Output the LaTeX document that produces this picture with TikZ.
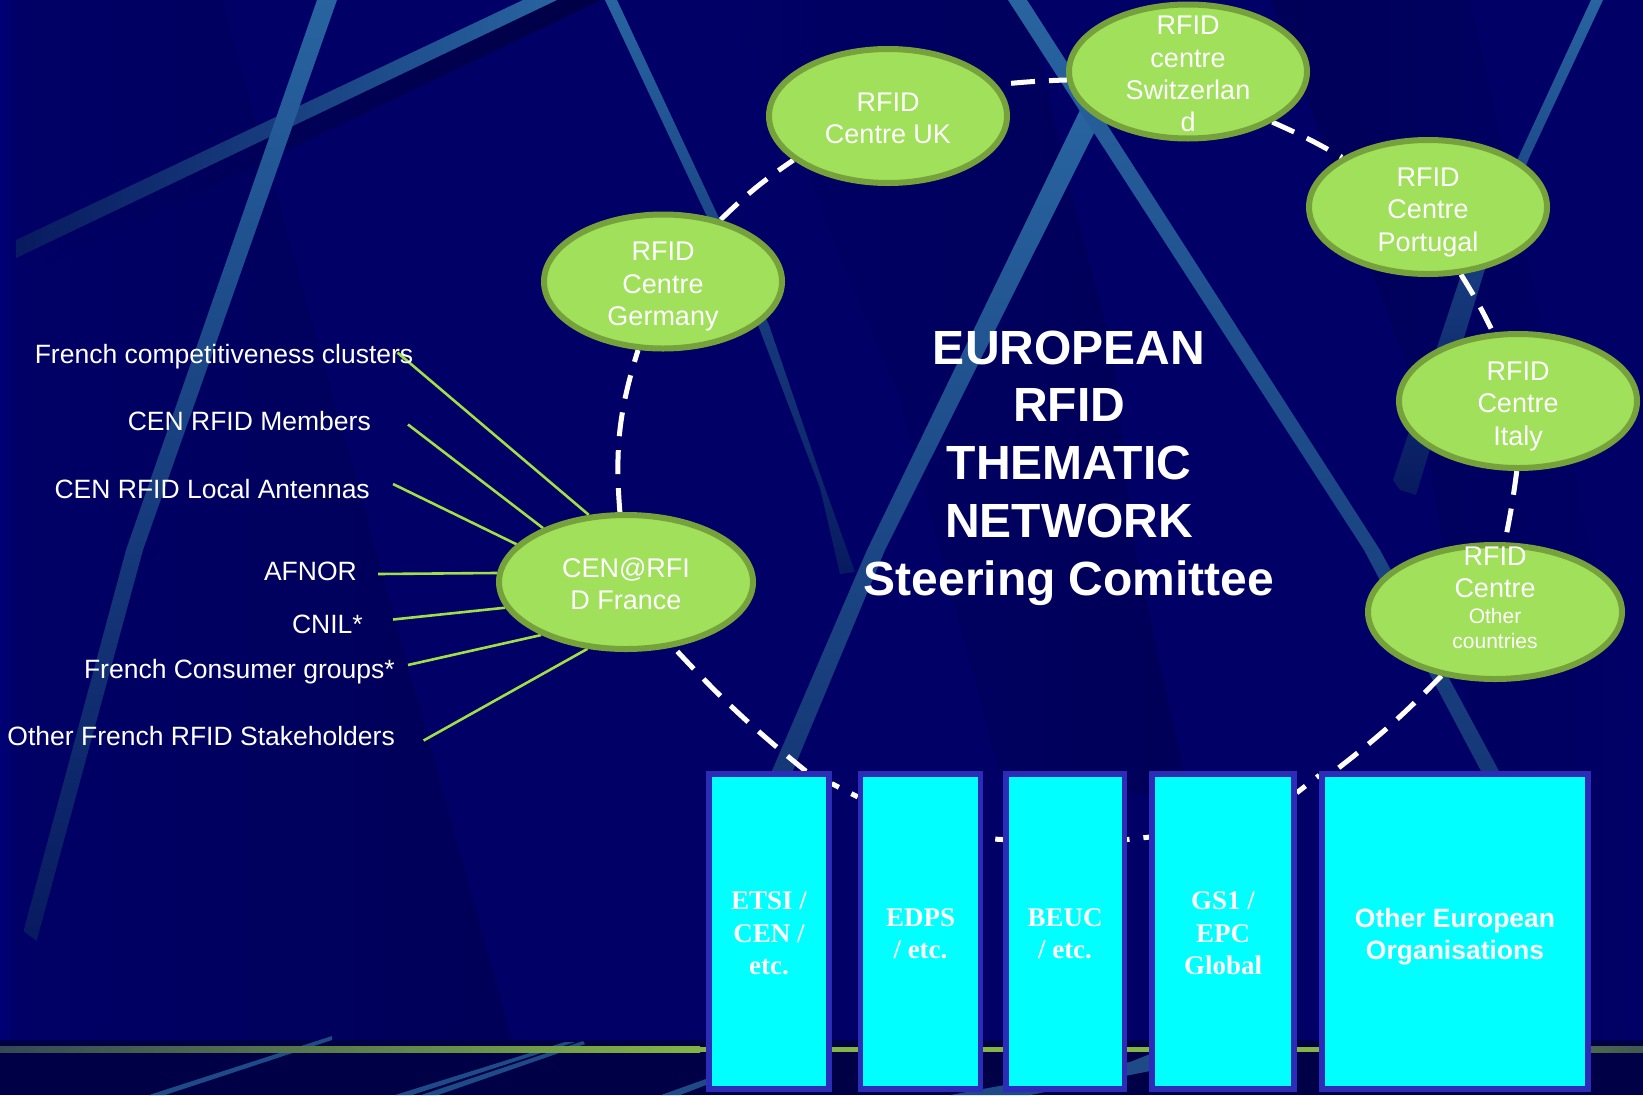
\documentclass[tikz,border=0pt]{standalone}
\usepackage{fontspec}
\setmainfont{Liberation Sans}
\newfontfamily\serifbf{Liberation Serif}[BoldFont={Liberation Serif Bold}]
\usetikzlibrary{shapes.geometric}
\pgfdeclarelayer{scene}
\pgfdeclarelayer{rings}
\pgfsetlayers{scene,rings,main}
\definecolor{navy}{RGB}{0,0,102}
\definecolor{navyd}{RGB}{0,0,88}
\definecolor{navyl}{RGB}{0,0,118}
\definecolor{navyb}{RGB}{0,0,70}
\definecolor{bandb}{RGB}{40,100,160}
\definecolor{bandm}{RGB}{30,75,135}
\definecolor{bandd}{RGB}{8,26,96}
\definecolor{ovalf}{RGB}{160,224,90}
\definecolor{ovald}{RGB}{118,162,60}
\definecolor{spoke}{RGB}{160,224,70}
\definecolor{boxe}{RGB}{44,44,184}
\definecolor{aqua}{RGB}{0,255,255}
\newcommand{\ovaltext}[2][-23pt]{\raisebox{#1}{\smash{\begin{tabular}[c]{@{}c@{}}#2\end{tabular}}}}
\tikzset{
  oval/.style={ellipse,draw=ovald,fill=ovalf,line width=6pt,minimum width=238pt,minimum height=134pt,inner sep=0pt,text=white,
     font=\fontsize{27}{32.4}\selectfont},
  orgbox/.style={rectangle,draw=boxe,fill=aqua,line width=5.5pt,minimum height=315pt,inner sep=0pt,text=white,
     font=\serifbf\bfseries\fontsize{27}{32.4}\selectfont},
  stake/.style={anchor=base east,inner sep=0pt,text=white,font=\fontsize{26.5}{32}\selectfont},
  ring/.style={draw=white,line width=5pt,dash pattern=on 24pt off 14pt},
  spokeline/.style={draw=spoke,line width=2.6pt},
  titletext/.style={text=white,align=center,inner sep=0pt,font=\bfseries\fontsize{48}{57.8}\selectfont}
}
\begin{document}
\begin{tikzpicture}[x=1pt,y=-1pt]
\useasboundingbox (0,0) rectangle (1643,1095);
\begin{pgfonlayer}{scene}
  \fill[navy] (0,0) rectangle (1643,1095);
  % facets
  \shade[left color=navyl,right color=navy] (0,0) rectangle (18,1040);
  \shade[left color=navy,right color=navyd] (18,0) -- (222,0) -- (376,550) -- (512,1040) -- (18,1040) -- cycle;
  \shade[left color=navy,right color=navyd] (732,0) -- (1029,0) -- (1066,174) -- (1113,350) -- (1134,545) -- (1190,800) -- (1000,775) -- (900,400) -- (836,250) -- (800,150) -- cycle;
  \shade[left color=navyd,right color=navy] (1270,0) -- (1470,0) -- (1560,400) -- (1643,800) -- (1643,1040) -- (1520,1040) -- (1420,400) -- cycle;
  \fill[navyb] (0,1040) rectangle (1643,1095);
  % thick diagonal and its shadow
  \shade[left color=navy,right color=navyb] (601,0) -- (557,0) -- (16,258) -- (37,270) -- cycle;
  \shade[left color=bandd,right color=bandb] (523,0) -- (557,0) -- (16,258) -- (16,240) -- cycle;
  % steep left band
  \shade[top color=bandb,bottom color=bandd] (317,0) -- (337,0) -- (143,550) -- (36.6,941) -- (23.5,931) -- (126,550) -- cycle;
  % band from the top to the middle
  \shade[top color=bandb,bottom color=bandd] (605,0) -- (617,0) -- (769,325) -- (820,474) -- (855,572) -- (840,574) -- (820,488) -- (758,325) -- cycle;
  % band under Switzerland, going down left
  \shade[top color=bandb,bottom color=bandd!40!bandm] (1080,110) -- (1098,125) -- (885,550) -- (792,773) -- (771,773) -- (867,550) -- cycle;
  % long band going down right
  \shade[top color=bandb,bottom color=bandd!40!bandm] (1008,0) -- (1027,0) -- (1380,550) -- (1500,773) -- (1482,773) -- (1364,550) -- cycle;
  % right band
  \shade[top color=bandb,bottom color=bandd] (1591,0) -- (1603,0) -- (1529,158) -- (1484,272) -- (1416,495) -- (1400,490) -- (1393,480) -- (1462,272) -- (1518,158) -- cycle;
  % bands at the foot
  \fill[bandm] (149,1095) -- (332,1036) -- (332,1040) -- (165,1095) -- cycle;
  \fill[bandm] (395,1095) -- (565,1042) -- (575,1042) -- (412,1095) -- cycle;
  \fill[bandm] (421,1095) -- (583,1041) -- (585,1044) -- (438,1095) -- cycle;
  \fill[bandm] (661,1095) -- (706,1079) -- (706,1085) -- (680,1095) -- cycle;
  \fill[bandm] (950,1095) -- (1130,1062) -- (1150,1054) -- (1150,1071) -- (1030,1095) -- cycle;
  % foot line
  \shade[left color=ovald!45!navy,right color=ovald!70!ovalf] (0,1046.5) rectangle (700,1052);
  \fill[ovald!70!ovalf] (700,1046.5) rectangle (1320,1052);
  \shade[left color=ovald!70!ovalf,right color=ovald!55!navy] (1320,1046.5) rectangle (1643,1052);
\end{pgfonlayer}

% centres of the network
\node[oval] (germany) at (663,281.5) {\ovaltext{RFID\\Centre\\Germany}};
\node[oval] (uk) at (888,116) {\ovaltext{RFID\\Centre UK}};
\node[oval] (swiss) at (1188,71.5) {\ovaltext{RFID\\centre\\Switzerlan\\d}};
\node[oval] (portugal) at (1428,207) {\ovaltext{RFID\\Centre\\Portugal}};
\node[oval] (italy) at (1518,401) {\ovaltext{RFID\\Centre\\Italy}};
\node[oval,minimum width=254pt] (othercountries) at (1495,612) {\ovaltext[11pt]{RFID\\Centre\\[-6pt]{\fontsize{21}{26}\selectfont Other}\\[-8pt]{\fontsize{21}{26}\selectfont countries}}};
\node[oval,minimum width=254pt] (france) at (626,582) {\ovaltext{CEN@RFI\\D France}};

% title
\node[titletext] (title) at (1069,468) {EUROPEAN\\RFID\\THEMATIC\\NETWORK\\Steering Comittee};

% organisations
\node[orgbox,minimum width=120pt] (etsi) at (769,931.5) {\ovaltext[-21pt]{ETSI /\\CEN /\\etc.}};
\node[orgbox,minimum width=120pt] (edps) at (920.5,931.5) {\ovaltext[-21pt]{EDPS\\/ etc.}};
\node[orgbox,minimum width=118.5pt] (beuc) at (1065,931.5) {\ovaltext[-21pt]{BEUC\\/ etc.}};
\node[orgbox,minimum width=142pt] (gs1) at (1223,931.5) {\ovaltext[-21pt]{GS1 /\\EPC\\Global}};
\node[orgbox,minimum width=266pt,font=\bfseries\fontsize{26.5}{32.4}\selectfont] (otherorg) at (1455,931.5) {\ovaltext{Other European\\Organisations}};

% stakeholders
\node[stake] (s1) at (413.5,363.5) {French competitiveness clusters};
\node[stake] (s2) at (371,430.5) {CEN RFID Members};
\node[stake] (s3) at (370,498.5) {CEN RFID Local Antennas};
\node[stake] (s4) at (357,580) {AFNOR};
\node[stake] (s5) at (363,633.5) {CNIL*};
\node[stake] (s6) at (395,678) {French Consumer groups*};
\node[stake] (s7) at (395,745.5) {Other French RFID Stakeholders};
\coordinate (c1) at (397.5,352.6);
\coordinate (c2) at (408,424.5);
\coordinate (c3) at (393,484);
\coordinate (c4) at (378,574);
\coordinate (c5) at (393,619.5);
\coordinate (c6) at (408,665);
\coordinate (c7) at (423.6,740.5);

\begin{pgfonlayer}{rings}
  \draw[spokeline] (c1) -- (france.119.2);
  \draw[spokeline] (c2) -- (france.147.1);
  \draw[spokeline] (c3) -- (france.161.5);
  \draw[spokeline] (c4) -- (france.176.4);
  \draw[spokeline] (c5) -- (france.192.3);
  \draw[spokeline] (c6) -- (france.212);
  \draw[spokeline] (c7) -- (france.240.8);
  \draw[ring] (france.95) to[bend left=11] (germany.250);
  \draw[ring] (germany.47.5) to[bend left=5] (uk.205);
  \draw[ring,dash phase=24pt] (uk.16) to[bend left=2] (swiss.184);
  \draw[ring] (swiss.329.5) to[bend left=3] (portugal.150);
  \draw[ring] (portugal.296) to[bend left=3] (italy.110);
  \draw[ring] (italy.269) to[bend left=2] (othercountries.82);
  \draw[ring] (othercountries.230) to[bend left=4] (otherorg.127);
  \draw[ring,dash phase=13pt] (gs1.62) -- (otherorg.131.6);
  \draw[ring,dash phase=21.5pt] (beuc.56) -- (gs1.128);
  \draw[ring,dash phase=26pt] (edps.56.7) -- (beuc.124);
  \draw[ring,dash phase=16pt] (etsi.67) -- (edps.115.5);
  \draw[ring] (etsi.77) to[bend left=4] (france.306);
\end{pgfonlayer}
\end{tikzpicture}
\end{document}
